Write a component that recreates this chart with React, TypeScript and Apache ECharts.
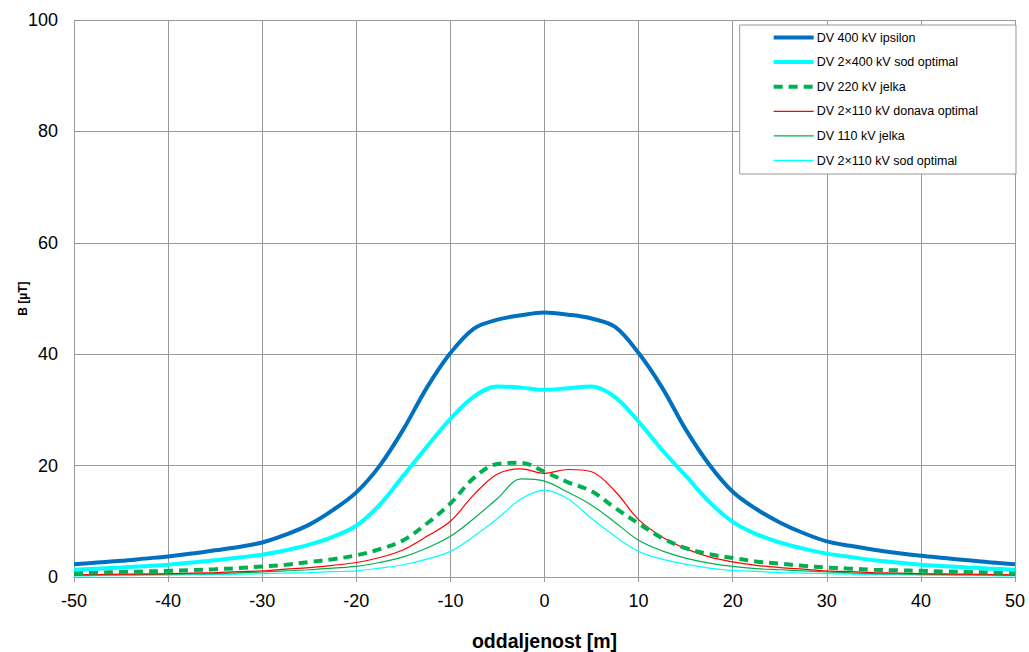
import React, { useEffect, useRef } from "react";
import * as echarts from "echarts";

const xs = [-50, -47.5, -45, -42.5, -40, -37.5, -35, -32.5, -30, -27.5, -25, -22.5, -20, -17.5, -15, -12.5, -10, -7.5, -5, -2.5, 0, 2.5, 5, 7.5, 10, 12.5, 15, 17.5, 20, 22.5, 25, 27.5, 30, 32.5, 35, 37.5, 40, 42.5, 45, 47.5, 50];

const seriesNames = [
  "DV 400 kV ipsilon",
  "DV 2×400 kV sod optimal",
  "DV 220 kV jelka",
  "DV 2×110 kV donava optimal",
  "DV 110 kV jelka",
  "DV 2×110 kV sod optimal",
];

const dv400ipsilon = [2.3, 2.6, 2.9, 3.3, 3.7, 4.2, 4.8, 5.4, 6.2, 7.6, 9.4, 12.0, 15.2, 20.0, 26.5, 34.0, 40.2, 44.6, 46.2, 47.0, 47.5, 47.1, 46.4, 44.9, 40.2, 34.0, 26.5, 20.2, 15.3, 12.2, 9.8, 7.9, 6.4, 5.6, 4.9, 4.3, 3.8, 3.4, 3.0, 2.6, 2.3];
const dv2x400sod = [1.3, 1.5, 1.7, 1.95, 2.2, 2.6, 3.0, 3.5, 4.0, 4.8, 5.8, 7.2, 9.2, 13.0, 18.2, 23.4, 28.4, 32.4, 34.2, 34.0, 33.6, 33.9, 34.2, 32.3, 27.9, 22.8, 18.2, 13.5, 9.9, 7.7, 6.2, 5.1, 4.2, 3.6, 3.0, 2.6, 2.2, 1.95, 1.7, 1.5, 1.3];
const dv220jelka = [0.7, 0.8, 0.9, 1.0, 1.1, 1.25, 1.4, 1.6, 1.9, 2.2, 2.7, 3.2, 3.9, 5.0, 6.6, 9.6, 13.2, 17.8, 20.3, 20.5, 18.9, 17.0, 15.4, 12.4, 9.6, 7.0, 5.2, 4.1, 3.4, 2.8, 2.4, 2.0, 1.7, 1.5, 1.3, 1.2, 1.1, 1.0, 0.9, 0.8, 0.7];
const dv2x110donava = [0.4, 0.45, 0.5, 0.55, 0.6, 0.7, 0.8, 0.95, 1.1, 1.4, 1.7, 2.1, 2.6, 3.5, 4.9, 7.3, 10.0, 14.8, 18.5, 19.4, 18.6, 19.3, 18.9, 15.4, 10.3, 7.2, 5.1, 3.6, 2.7, 2.1, 1.7, 1.4, 1.1, 0.95, 0.8, 0.7, 0.6, 0.55, 0.5, 0.45, 0.4];
const dv110jelka = [0.3, 0.35, 0.4, 0.45, 0.5, 0.55, 0.6, 0.75, 0.9, 1.1, 1.3, 1.6, 1.9, 2.6, 3.6, 5.2, 7.3, 10.5, 14.1, 17.6, 17.2, 15.2, 12.9, 9.8, 6.6, 4.7, 3.4, 2.5, 1.9, 1.5, 1.3, 1.1, 0.9, 0.75, 0.6, 0.55, 0.5, 0.45, 0.4, 0.35, 0.3];
const dv2x110sod = [0.2, 0.22, 0.25, 0.3, 0.35, 0.4, 0.45, 0.5, 0.6, 0.7, 0.8, 0.95, 1.1, 1.6, 2.2, 3.2, 4.6, 7.3, 10.5, 14.0, 15.6, 14.0, 10.5, 7.3, 4.6, 3.2, 2.3, 1.6, 1.2, 1.0, 0.8, 0.7, 0.6, 0.5, 0.45, 0.4, 0.35, 0.3, 0.25, 0.22, 0.2];

const allValues = [dv400ipsilon, dv2x400sod, dv220jelka, dv2x110donava, dv110jelka, dv2x110sod];
const colors = ["#0070C0", "#00FFFF", "#00B050", "#FF0000", "#00B050", "#00FFFF"];
const widths = [4, 4, 4, 1.2, 1.2, 1.2];
const legendWidths = [4, 4, 4, 1.3, 1.3, 1.3];
const types: any[] = ["solid", "solid", [9, 6], "solid", "solid", "solid"];

const FONT = "'Liberation Sans', Arial, sans-serif";

export default function App() {
  const ref = useRef<HTMLDivElement>(null);
  useEffect(() => {
    if (!ref.current) return;
    const chart = echarts.init(ref.current, undefined, { renderer: "svg" });
    chart.setOption({
      animation: false,
      backgroundColor: "#ffffff",
      textStyle: { fontFamily: FONT },
      grid: { left: 74, right: 14, top: 20, bottom: 75, containLabel: false, outerBoundsMode: "none" },
      legend: {
        orient: "vertical",
        right: 13,
        top: 25,
        backgroundColor: "#ffffff",
        borderColor: "#999999",
        borderWidth: 1,
        borderRadius: 0,
        padding: [6, 38, 7, 32],
        itemWidth: 40,
        itemHeight: 12,
        itemGap: 11.6,
        itemStyle: { opacity: 0 },
        textStyle: { fontFamily: FONT, fontSize: 12.5, color: "#000", padding: [0, 0, 0, -2] },
        data: seriesNames.map((n, i) => ({
          name: n,
          lineStyle: { width: legendWidths[i], color: colors[i], type: types[i] },
        })),
      },
      xAxis: {
        type: "value",
        min: -50,
        max: 50,
        interval: 10,
        name: "oddaljenost [m]",
        nameLocation: "middle",
        nameGap: 54,
        nameMoveOverlap: false,
        nameTextStyle: { fontFamily: FONT, fontSize: 19.5, fontWeight: "bold", color: "#000" },
        axisLine: { show: true, lineStyle: { color: "#999", width: 1 } },
        axisTick: { show: true, length: 5, lineStyle: { color: "#999" } },
        axisLabel: { fontFamily: FONT, fontSize: 18, color: "#000", margin: 15 },
        splitLine: { show: true, lineStyle: { color: "#999", width: 1 } },
      },
      yAxis: {
        type: "value",
        min: 0,
        max: 100,
        interval: 20,
        name: "B [µT]",
        nameLocation: "middle",
        nameRotate: 90,
        nameGap: 45,
        nameMoveOverlap: false,
        nameTextStyle: { fontFamily: FONT, fontSize: 12, fontWeight: "bold", color: "#000" },
        axisLine: { show: true, lineStyle: { color: "#999", width: 1 } },
        axisTick: { show: true, length: 6, lineStyle: { color: "#999" } },
        axisLabel: { fontFamily: FONT, fontSize: 18, color: "#000", margin: 16 },
        splitLine: { show: true, lineStyle: { color: "#999", width: 1 } },
      },
      series: allValues.map((vals, i) => ({
        name: seriesNames[i],
        type: "line",
        data: xs.map((x, j) => [x, vals[j]]),
        smooth: 0.35,
        symbol: "none",
        showSymbol: false,
        color: colors[i],
        lineStyle: { color: colors[i], width: widths[i], type: types[i] },
        z: 10 - i,
      })),
    });
    return () => chart.dispose();
  }, []);
  return (
    <div
      ref={ref}
      style={{ position: "absolute", left: 0, top: 0, width: 1029, height: 652 }}
    />
  );
}
